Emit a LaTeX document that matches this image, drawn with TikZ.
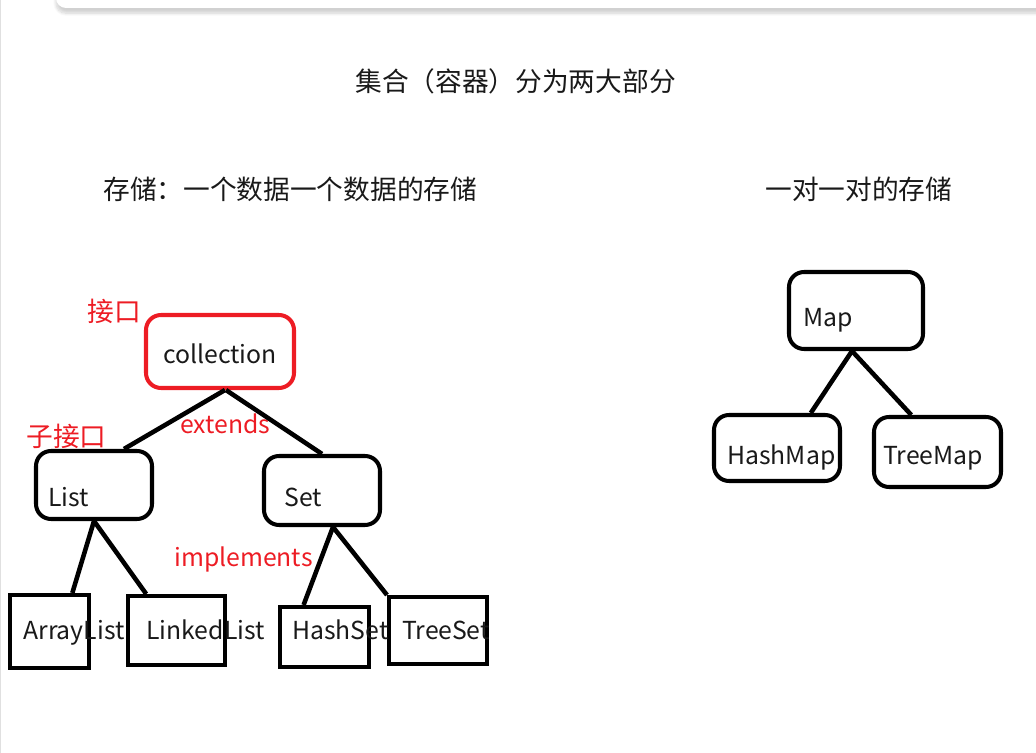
\documentclass[tikz,border=0pt]{standalone}
\usepackage{fontspec}
\newfontfamily\cjk{Noto Sans CJK SC}
\usetikzlibrary{calc,shadows.blur}
\definecolor{paintred}{HTML}{ED1C24}

\begin{document}
\begin{tikzpicture}[
    x=0.02cm, y=-0.02cm,
    box/.style={rectangle, draw, line width=2.3pt, rounded corners=0.3cm, inner sep=0pt},
    sqbox/.style={rectangle, draw, line width=2.3pt, inner sep=0pt},
    txt/.style={anchor=base west, inner sep=0pt, text=black!90, font=\cjk\fontsize{15.2}{18}\selectfont},
    word/.style={txt, font=\cjk\fontsize{14.1}{17}\selectfont},
    note/.style={txt, text=paintred},
    wordnote/.style={word, text=paintred},
    link/.style={line width=2.6pt}
]
\useasboundingbox (0,0) rectangle (1036,753);

% Page frame
\fill[white, rounded corners=0.2cm, blur shadow={shadow xshift=0pt, shadow yshift=-3pt, shadow blur steps=10, shadow opacity=18}] (56,-40) rectangle (1080,8);
\draw[black!12, line width=0.6pt] (0.6,0) -- (0.6,753);

% Titles
\node[txt] (title) at (355,92) {集合（容器）分为两大部分};
\node[txt] (single) at (103,200) {存储：一个数据一个数据的存储};
\node[txt] (pair) at (765,200) {一对一对的存储};

% Collection tree
\node[box, draw=paintred, minimum width=2.96cm, minimum height=1.46cm] (coll) at (220,351.5) {};
\node[box, minimum width=2.32cm, minimum height=1.36cm] (list) at (94,485) {};
\node[box, minimum width=2.32cm, minimum height=1.38cm] (set) at (322,490.5) {};
\node[sqbox, minimum width=1.58cm, minimum height=1.46cm] (alist) at (49.5,631.5) {};
\node[sqbox, minimum width=1.94cm, minimum height=1.38cm] (llist) at (176.5,630.5) {};
\node[sqbox, minimum width=1.78cm, minimum height=1.2cm] (hset) at (324.5,637) {};
\node[sqbox, minimum width=1.96cm, minimum height=1.34cm] (tset) at (438,630.5) {};

\node[word] (collTxt) at (163,364) {collection};
\node[word] (listTxt) at (48,507) {List};
\node[word] (setTxt) at (284,507) {Set};
\node[word] (alistTxt) at (23,640) {ArrayList};
\node[word] (llistTxt) at (146,640) {LinkedList};
\node[word] (hsetTxt) at (292,640) {HashSet};
\node[word] (tsetTxt) at (402,640) {TreeSet};

% Map tree
\node[box, minimum width=2.68cm, minimum height=1.54cm] (map) at (856,310.5) {};
\node[box, minimum width=2.52cm, minimum height=1.32cm] (hmap) at (777,448) {};
\node[box, minimum width=2.54cm, minimum height=1.4cm] (tmap) at (937.5,452) {};

\node[word] (mapTxt) at (803,327) {Map};
\node[word] (hmapTxt) at (727,465) {HashMap};
\node[word] (tmapTxt) at (883,465) {TreeMap};

% Notes
\node[note] (iface) at (87,322) {接口};
\node[note] (subIface) at (26,447) {子接口};
\node[wordnote] (ext) at (180,434) {extends};
\node[wordnote] (impl) at (174,567) {implements};

% Relationships
\draw[link] ([xshift=0.1cm]coll.south) -- ($(list.north)!0.5!(list.north east)$);
\draw[link] ([xshift=0.12cm]coll.south) -- (set.north);
\draw[link] (list.south) -- ($(alist.north)!0.55!(alist.north east)$);
\draw[link] (list.south) -- ($(llist.north)!0.6!(llist.north west)$);
\draw[link] ([xshift=0.22cm]set.south) -- ($(hset.north)!0.45!(hset.north west)$);
\draw[link] ([xshift=0.22cm]set.south) -- (tset.north west);
\draw[link] ([xshift=-0.08cm]map.south) -- ($(hmap.north)!0.52!(hmap.north east)$);
\draw[link] ([xshift=-0.08cm]map.south) -- ($(tmap.north)!0.4!(tmap.north west)$);

\end{tikzpicture}
\end{document}
